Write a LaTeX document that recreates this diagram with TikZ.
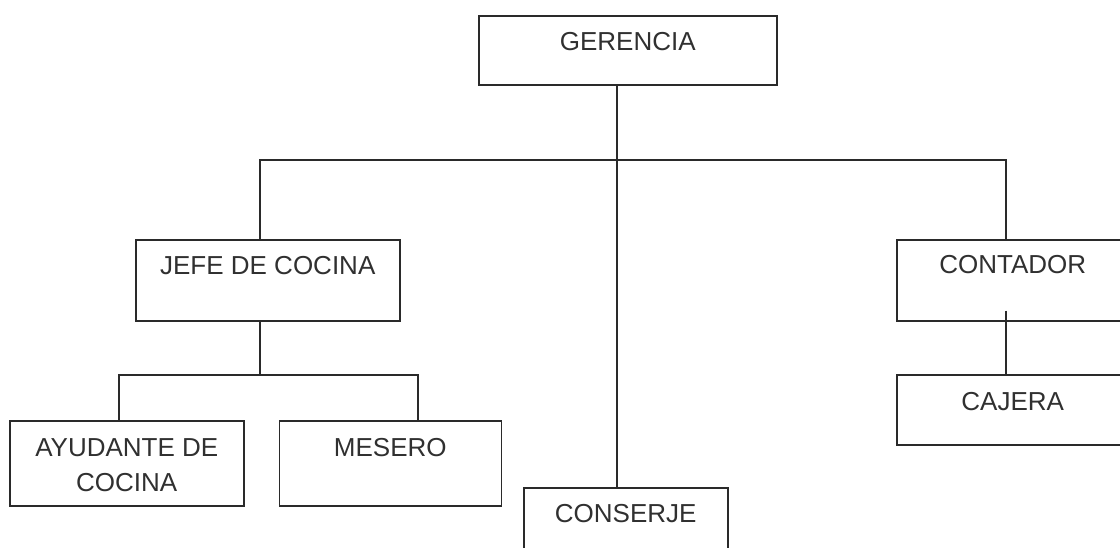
\documentclass[tikz,border=0pt]{standalone}
\usepackage{fontspec}
\setmainfont{Liberation Sans}
\usetikzlibrary{positioning, calc}
\definecolor{linea}{HTML}{2a2a2a}
\definecolor{texto}{HTML}{303030}

\tikzset{
  puesto/.style={draw=linea, line width=1.5pt, rectangle, anchor=north west,
                 inner xsep=0pt, inner ysep=0pt, align=center, text=texto,
                 font=\fontsize{26}{35}\selectfont},
  conector/.style={draw=linea, line width=1.5pt}
}

\begin{document}
\begin{tikzpicture}[x=1pt, y=-1pt]
  \useasboundingbox (0,0) rectangle (1120,547);
  \clip (0,0) rectangle (1120,547);

  \node[puesto, minimum width=298pt, text height=35pt, text depth=34pt]
        (gerencia) at (478,15) {GERENCIA};
  \node[puesto, minimum width=264pt, text height=35pt, text depth=46pt]
        (jefe) at (135,239) {JEFE DE COCINA};
  \node[puesto, minimum width=232pt, text height=34pt, text depth=47pt]
        (contador) at (896,239) {CONTADOR};
  \node[puesto, minimum width=232pt, text height=36pt, text depth=34pt]
        (cajera) at (896,374) {CAJERA};
  \node[puesto, minimum width=234pt, text height=70.5pt, text depth=14.5pt]
        (ayudante) at (9,420) {AYUDANTE DE\\COCINA};
  \node[puesto, minimum width=222pt, text height=35.5pt, text depth=49.5pt, right=34pt of ayudante.north east, anchor=north west]
        (mesero) {MESERO};
  \node[puesto, minimum width=204pt, text height=34.6pt, text depth=45pt]
        (conserje) at (523,487) {CONSERJE};

  % puntos de las ramas
  \coordinate (tronco) at (617,160);
  \coordinate (ramal jefe) at (260,160);
  \coordinate (ramal contador) at (1006,160);
  \coordinate (ramal ayudante) at (119,375);
  \coordinate (ramal mesero) at (418,375);

  \draw[conector] (gerencia.south -| tronco) -- (conserje.north -| tronco);
  \draw[conector] (jefe.north -| ramal jefe) -- (ramal jefe) -- (ramal contador)
                  -- (contador.north -| ramal contador);
  \draw[conector] (jefe.south -| ramal jefe) -- (ramal jefe |- ramal ayudante);
  \draw[conector] (ayudante.north -| ramal ayudante) -- (ramal ayudante)
                  -- (ramal mesero) -- (mesero.north -| ramal mesero);
  \draw[conector] ([yshift=11pt]contador.south -| ramal contador)
                  -- (cajera.north -| ramal contador);
\end{tikzpicture}
\end{document}
